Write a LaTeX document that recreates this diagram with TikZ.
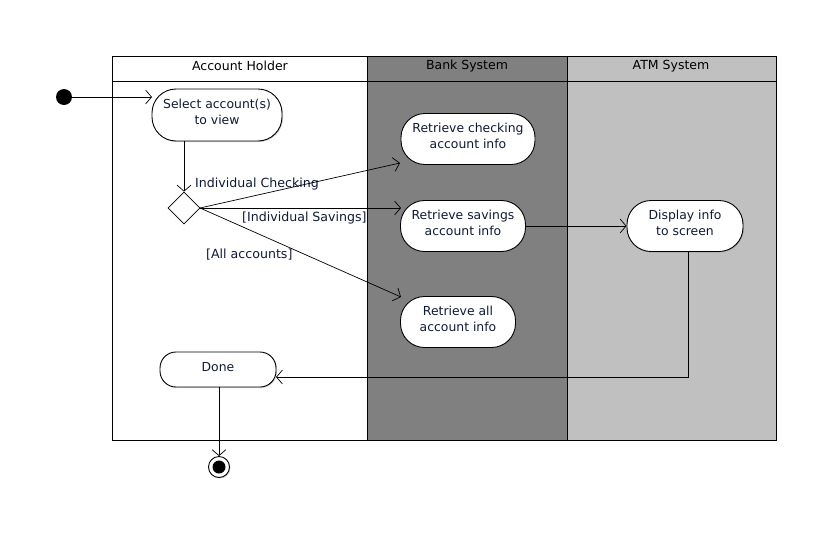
\documentclass[tikz,border=0pt]{standalone}
\usepackage{fontspec}
\setmainfont{DejaVu Sans}
\usetikzlibrary{arrows.meta,shapes.geometric,shadows}
\definecolor{txt}{HTML}{101A38}
\definecolor{lanedark}{HTML}{808080}
\definecolor{lanelight}{HTML}{C0C0C0}
\tikzset{
  act/.style={draw=black, line width=0.9pt, fill=white, align=center,
    text=txt, font=\fontsize{12.4}{16}\selectfont, inner sep=0pt,
    execute at end node={\rule[-6pt]{0pt}{0pt}},
    drop shadow={shadow xshift=1pt, shadow yshift=-1pt, opacity=0.35}},
  flow/.style={draw=black, line width=0.7pt, -{Straight Barb[length=6pt,width=14pt]}},
  lane/.style={draw=black, line width=0.8pt},
  hdr/.style={font=\fontsize{12.5}{14}\selectfont, text=black},
  guard/.style={font=\fontsize{12.6}{14}\selectfont, text=txt, anchor=west, inner sep=0pt},
}
\begin{document}
\begin{tikzpicture}[x=1pt,y=-1pt]
\useasboundingbox (0,0) rectangle (832,536);
% lanes
\fill[white] (112,56) rectangle (367,440);
\fill[lanedark] (367,56) rectangle (567,440);
\fill[lanelight] (567,56) rectangle (776,440);
\draw[lane] (112,56) rectangle (776,440);
\draw[lane] (112,81) -- (776,81);
\draw[lane] (367,56) -- (367,440);
\draw[lane] (567,56) -- (567,440);
\node[hdr] (h1) at (240,66) {Account Holder};
\node[hdr] (h2) at (467,66) {Bank System};
\node[hdr] (h3) at (671,66) {ATM System};
% nodes
\node[circle, fill=black, minimum size=16pt, inner sep=0pt] (init) at (64,97) {};
\node[act, minimum width=130pt, minimum height=52pt, rounded corners=24pt] (sel) at (217,115) {Select account(s)\\to view};
\node[diamond, draw=black, line width=0.8pt, fill=white, minimum width=32pt, minimum height=32pt, inner sep=0pt] (dec) at (184,208) {};
\node[act, minimum width=134pt, minimum height=51pt, rounded corners=24pt] (chk) at (468,139) {Retrieve checking\\account info};
\node[act, minimum width=125pt, minimum height=51pt, rounded corners=24pt] (sav) at (463,226) {Retrieve savings\\account info};
\node[act, minimum width=115pt, minimum height=51pt, rounded corners=24pt] (all) at (458,322) {Retrieve all\\account info};
\node[act, minimum width=116pt, minimum height=51pt, rounded corners=24pt] (disp) at (685,226) {Display info\\to screen};
\node[act, minimum width=116pt, minimum height=35pt, rounded corners=16pt, execute at end node={}] (done) at (218,369.5) {Done};
\node[circle, draw=black, line width=0.9pt, fill=white, minimum size=21pt, inner sep=0pt,
  drop shadow={shadow xshift=1pt, shadow yshift=-1pt, opacity=0.35}] (fin) at (219,467) {};
\node[circle, fill=black, minimum size=13pt, inner sep=0pt] (finin) at (fin) {};
% guards
\node[guard] (g1) at (195,184) {Individual Checking};
\node[guard] (g2) at (242,218) {[Individual Savings]};
\node[guard] (g3) at (206,255) {[All accounts]};
% flows
\coordinate (selS) at (184,141);
\coordinate (decR) at (200,208);
\coordinate (chkIn) at (400,163);
\coordinate (savIn) at (401,208);
\coordinate (allIn) at (401,297);
\coordinate (dispS) at (688,252);
\coordinate (corner) at (688,377);
\coordinate (doneIn) at (276,377);
\draw[flow] (init) -- (152,97);
\draw[flow] (selS) -- (dec.north);
\draw[flow] (decR) -- (chkIn);
\draw[flow] (decR) -- (savIn);
\draw[flow] (decR) -- (allIn);
\draw[flow] (sav.east) -- (disp.west);
\draw[flow] (dispS) -- (corner) -- (doneIn);
\draw[flow] (done.south -| fin) -- (fin.north);
\end{tikzpicture}
\end{document}
